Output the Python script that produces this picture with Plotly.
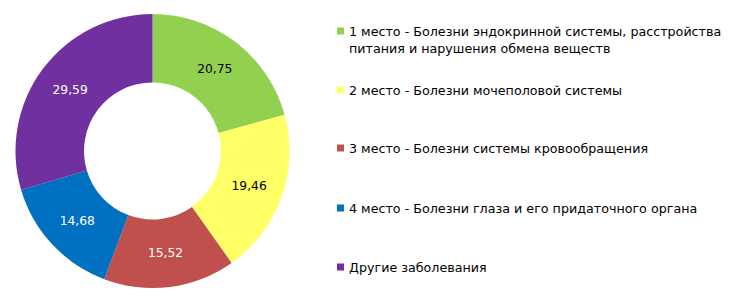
import plotly.graph_objects as go

labels = [
    "1 место - Болезни эндокринной системы, расстройства<br>питания и нарушения обмена веществ",
    "2 место - Болезни мочеполовой системы",
    "3 место - Болезни системы кровообращения",
    "4 место - Болезни глаза и его придаточного органа",
    "Другие заболевания",
]
values = [20.75, 19.46, 15.52, 14.68, 29.59]
colors = ["#92D050", "#FFFF66", "#C0504D", "#0070C0", "#7030A0"]
text_colors = ["#000000", "#000000", "#FFFFFF", "#FFFFFF", "#FFFFFF"]
text_labels = [f"{v:.2f}".replace(".", ",") for v in values]

W, H = 740, 302

fig = go.Figure(
    go.Pie(
        labels=labels,
        values=values,
        text=text_labels,
        textinfo="text",
        textposition="inside",
        insidetextorientation="horizontal",
        sort=False,
        direction="clockwise",
        rotation=0,
        hole=0.5,
        marker=dict(colors=colors, line=dict(width=0)),
        textfont=dict(family="DejaVu Sans", size=12.3, color=text_colors),
        domain=dict(x=[15 / W, 290 / W], y=[1 - 288 / H, 1 - 14 / H]),
        showlegend=False,
        hoverinfo="label+value",
    )
)

# Custom legend (evenly spaced entries as in the reference)
legend_y = [31, 90, 148, 208, 267]
sq_x0, sq_size, text_x = 337, 7, 347
for lab, col, yc in zip(labels, colors, legend_y):
    fig.add_shape(
        type="rect", xref="paper", yref="paper",
        x0=sq_x0 / W, x1=(sq_x0 + sq_size) / W,
        y0=1 - (yc + sq_size / 2) / H, y1=1 - (yc - sq_size / 2) / H,
        fillcolor=col, line=dict(width=0),
    )
    fig.add_annotation(
        xref="paper", yref="paper",
        x=text_x / W, y=1 - (yc - 9.5) / H,
        xanchor="left", yanchor="top",
        text=lab, showarrow=False, align="left",
        font=dict(family="DejaVu Sans", size=12.7, color="#000000"),
    )

fig.update_layout(
    width=W, height=H,
    margin=dict(l=0, r=0, t=0, b=0),
    paper_bgcolor="white", plot_bgcolor="white",
)

fig.write_html("out.html")
